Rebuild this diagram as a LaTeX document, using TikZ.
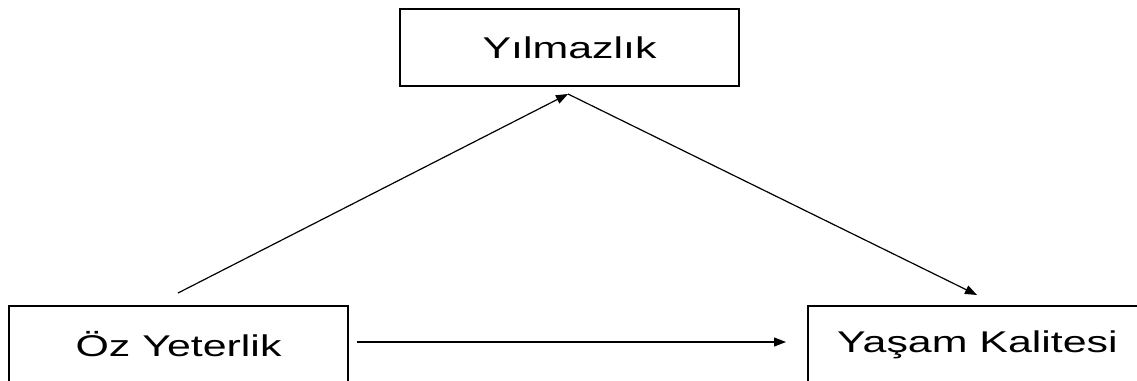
\documentclass[tikz,border=0pt]{standalone}
\usepackage{fontspec}
\setmainfont{Liberation Sans}
\usepackage{graphicx}
\usetikzlibrary{arrows.meta}
\tikzset{
  box/.style={draw=black, line width=1.3pt, minimum width=339pt, minimum height=77pt, inner sep=0pt, font=\fontsize{30}{36}\selectfont},
  conn/.style={draw=black, line width=1.2pt, -{Triangle[length=12pt,width=9pt]}}
}
\newcommand{\wtxt}[1]{\scalebox{1.43}[1]{#1}}
\begin{document}
\begin{tikzpicture}[x=1pt,y=-1pt]
\useasboundingbox (0,0) rectangle (1137,380);
\begin{scope}
\clip (0,0) rectangle (1137,380);
\node[box] (yl) at (569.5,47.5) {\wtxt{Yılmazlık}};
\node[box] (oz) at (178.5,344.5) {\wtxt{Öz Yeterlik}};
\node[box] (yk) at (977.5,344.5) {\wtxt{Yaşam Kalitesi}};
\end{scope}
\coordinate (ytip) at (568,94);
\coordinate (ozs) at (178,293);
\coordinate (yktip) at (977,295);
\coordinate (hs) at (357,342);
\coordinate (he) at (786,342);
\draw[conn] (ozs) -- (ytip);
\draw[conn] (ytip) -- (yktip);
\draw[conn] (hs) -- (he);
\end{tikzpicture}
\end{document}
